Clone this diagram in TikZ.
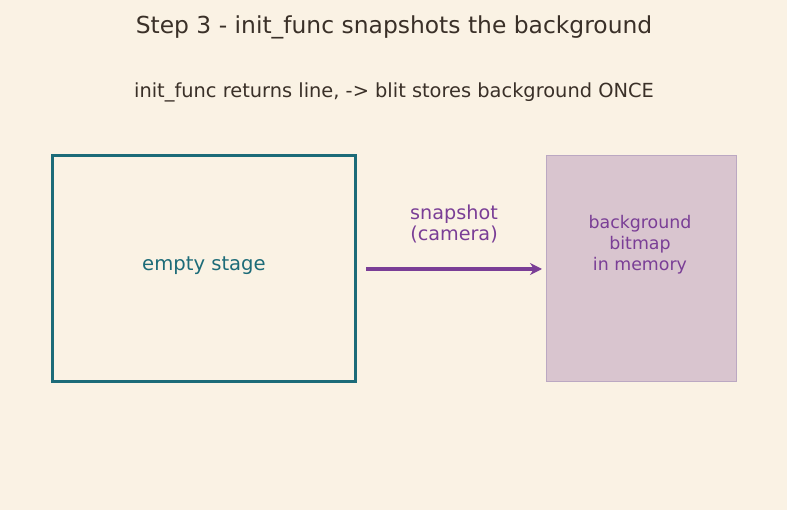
\documentclass[tikz,border=0pt]{standalone}
\usepackage{fontspec}
\setmainfont{DejaVu Sans}
\usetikzlibrary{arrows.meta}
\definecolor{bg}{HTML}{FAF2E4}
\definecolor{teal}{HTML}{1C6B78}
\definecolor{purp}{HTML}{7A3E96}
\definecolor{memfill}{HTML}{D9C5CF}
\definecolor{memdraw}{HTML}{BBA8C2}
\definecolor{ink}{HTML}{3A3028}
\tikzset{
  stagebox/.style={draw=teal, line width=3pt, minimum width=303pt, minimum height=226pt, inner sep=0pt},
  membox/.style={draw=memdraw, fill=memfill, line width=1pt, minimum width=190pt, minimum height=226pt, inner sep=0pt},
  flow/.style={draw=purp, line width=3.5pt, -{Stealth[length=12pt,width=12pt]}},
}
\begin{document}
\begin{tikzpicture}[x=1pt,y=-1pt]
\fill[bg] (0,0) rectangle (787,510);
\useasboundingbox (0,0) rectangle (787,510);
\node[text=ink, font=\fontsize{23.4}{28}\selectfont] (title) at (394,27) {Step 3 - init\_func snapshots the background};
\node[text=ink, font=\fontsize{19.4}{23}\selectfont] (sub) at (394,92) {init\_func returns line, -> blit stores background ONCE};
\node[stagebox] (stage) at (203.5,269) {};
\node[text=teal, font=\fontsize{19.6}{23}\selectfont] (stagelbl) at (204,266) {empty stage};
\node[membox] (mem) at (641,269) {};
\node[text=purp, align=center, font=\fontsize{17.4}{21}\selectfont] (memlbl) at (640,245) {background\\bitmap\\in memory};
\coordinate (a0) at (366,269);
\coordinate (a1) at (542,269);
\draw[flow] (a0) -- (a1);
\node[text=purp, align=center, font=\fontsize{19.2}{21}\selectfont] (snap) at (454,224) {snapshot\\(camera)};
\end{tikzpicture}
\end{document}
